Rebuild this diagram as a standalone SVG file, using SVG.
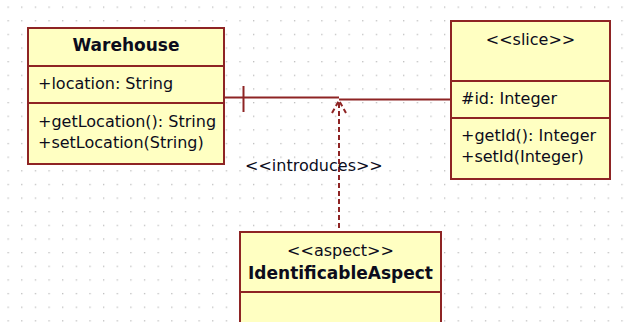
<svg xmlns="http://www.w3.org/2000/svg" width="631" height="322" viewBox="0 0 631 322">
<style>
.box{fill:#ffffc2;stroke:#8e2424;stroke-width:2}
.div{stroke:#8e2424;stroke-width:2}
.t{font-family:"DejaVu Sans",Verdana,sans-serif;font-size:16px;fill:#0c0c1c}
.b{font-family:"DejaVu Sans",Verdana,sans-serif;font-size:17px;font-weight:bold;fill:#0c0c1c}
.c{text-anchor:middle}
.ln{fill:none;stroke:#8e2424;stroke-width:2}
.dash{fill:none;stroke:#8e2424;stroke-width:2;stroke-dasharray:5,3}
</style>
<defs>
<pattern id="grid" patternUnits="userSpaceOnUse" x="7.5" y="6.5" width="13.64" height="13.64">
<rect x="0" y="0" width="1.3" height="1.3" fill="#bcbcbc"/>
</pattern>
</defs>
<rect width="631" height="322" fill="#ffffff"/>
<rect width="631" height="322" fill="url(#grid)"/>

<g id="connectors">
<path class="ln" d="M225,97.5 H339"/>
<path class="ln" d="M339,99.5 H451"/>
<path class="ln" d="M243.5,86 V112"/>
<path class="dash" d="M339,103 V232"/>
<path class="dash" d="M332,113 L339,100.5 L346,113"/>
<text class="t" x="245" y="171">&lt;&lt;introduces&gt;&gt;</text>
</g>

<g id="Warehouse">
<rect class="box" x="28" y="28" width="196" height="136"/>
<line class="div" x1="28" y1="66" x2="224" y2="66"/>
<line class="div" x1="28" y1="103" x2="224" y2="103"/>
<text class="b c" x="126" y="51">Warehouse</text>
<text class="t" x="38" y="89">+location: String</text>
<text class="t" x="38" y="127">+getLocation(): String</text>
<text class="t" x="38" y="148">+setLocation(String)</text>
</g>

<g id="Slice">
<rect class="box" x="451" y="21" width="159" height="158"/>
<line class="div" x1="451" y1="81" x2="610" y2="81"/>
<line class="div" x1="451" y1="118" x2="610" y2="118"/>
<text class="t c" x="530.5" y="45">&lt;&lt;slice&gt;&gt;</text>
<text class="t" x="461" y="104">#id: Integer</text>
<text class="t" x="461" y="141">+getId(): Integer</text>
<text class="t" x="461" y="162">+setId(Integer)</text>
</g>

<g id="IdentificableAspect">
<rect class="box" x="240" y="232" width="201" height="100"/>
<line class="div" x1="240" y1="292" x2="441" y2="292"/>
<text class="t c" x="340.5" y="256">&lt;&lt;aspect&gt;&gt;</text>
<text class="b c" x="340.5" y="279">IdentificableAspect</text>
</g>
</svg>
